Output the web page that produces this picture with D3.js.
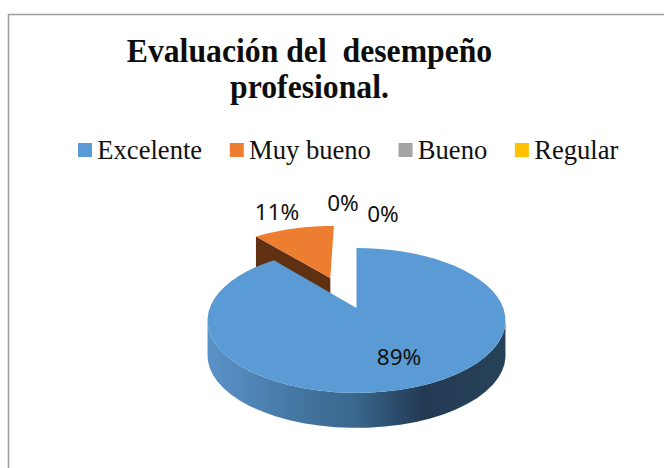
<!DOCTYPE html>
<html>
<head>
<meta charset="utf-8">
<script src="https://cdn.jsdelivr.net/npm/d3@7"></script>
<style>
  html, body { margin: 0; padding: 0; background: #fff; }
  svg { display: block; }
</style>
</head>
<body>
<div id="chart"></div>
<script>
let categories = ['Excelente', 'Muy bueno', 'Bueno', 'Regular']
let values = [89, 11, 0, 0]
let explode = [0, 0.5, 0, 0]
let colors = ['#5B9BD5', '#ED7D31', '#A5A5A5', '#FFC000']
let titleLines = ['Evaluación del  desempeño', 'profesional.']

let width = 664, height = 468

// pie centre and tilt, fitted to the picture
let cx = 356.5, cy = 308, depth = 35
let X = 146.8, Y = 70.3, k = 0.172

let svg = d3.select('#chart').append('svg')
  .attr('width', width)
  .attr('height', height)

svg.append('path')
  .attr('d', 'M8.5,468V14.5H664')
  .attr('fill', 'none')
  .attr('stroke', '#a0a0a0')
  .attr('stroke-width', 1.6)

// title, a bit taller than the font is wide in the picture
svg.selectAll('.title')
  .data(titleLines)
  .enter()
  .append('text')
  .attr('class', 'title')
  .attr('transform', function(d, i) { return 'translate(309.5,' + (62 + i * 36) + ') scale(1,1.05)' })
  .attr('text-anchor', 'middle')
  .style('white-space', 'pre')
  .attr('font-family', '"Liberation Serif"')
  .attr('font-weight', 'bold')
  .attr('font-size', 31.7)
  .attr('fill', '#0d0d0d')
  .text(function(d) { return d })

// legend, laid out left to right from the measured text
let legendX = 78
categories.forEach(function(c, i) {
  svg.append('rect')
    .attr('x', legendX)
    .attr('y', 143)
    .attr('width', 14)
    .attr('height', 14)
    .attr('fill', colors[i])
  let t = svg.append('text')
    .attr('x', legendX + 19.3)
    .attr('y', 159)
    .attr('font-family', '"Liberation Serif"')
    .attr('font-size', 26.6)
    .attr('fill', '#111')
    .text(c)
  legendX += 19.3 + t.node().getComputedTextLength() + 27.6
})

// disc coordinates to screen, with a little perspective
function project(u, v) {
  let w = 1 - k * v
  return [cx + X * u / w, cy + Y * v / w]
}

let pie = d3.pie().sort(null).value(function(d) { return d })
let slices = pie(values)

function rimPoints(s, i) {
  // pull-out direction sits a touch left of the slice middle in the picture
  let mid = (s.startAngle + s.endAngle) / 2 - 0.05
  let ox = explode[i] * Math.sin(mid), oy = -explode[i] * Math.cos(mid)
  let angles = d3.range(0, 61).map(function(n) {
    return s.startAngle + (s.endAngle - s.startAngle) * n / 60
  })
  return {
    apex: project(ox, oy),
    rim: angles.map(function(a) { return project(ox + Math.sin(a), oy - Math.cos(a)) })
  }
}

let line = d3.line()

let defs = svg.append('defs')
let grad = defs.append('linearGradient')
  .attr('id', 'blueSide')
  .attr('gradientUnits', 'userSpaceOnUse')
  .attr('x1', cx - 149).attr('x2', cx + 149)
  .attr('y1', 0).attr('y2', 0)
grad.append('stop').attr('offset', '0').attr('stop-color', '#5b93c9')
grad.append('stop').attr('offset', '0.25').attr('stop-color', '#477ba8')
grad.append('stop').attr('offset', '0.5').attr('stop-color', '#39668c')
grad.append('stop').attr('offset', '0.72').attr('stop-color', '#233a55')
grad.append('stop').attr('offset', '1').attr('stop-color', '#264257')

// orange slice first, the big one covers its wall
let small = rimPoints(slices[1], 1)
let wallEnd = small.rim[0]
svg.append('path')
  .attr('d', line([small.apex, wallEnd, [wallEnd[0], wallEnd[1] + depth], [small.apex[0], small.apex[1] + depth]]) + 'Z')
  .attr('fill', '#5f3112')
svg.append('path')
  .attr('d', line([small.apex].concat(small.rim)) + 'Z')
  .attr('fill', colors[1])

// big slice: side band, then top face
let big = rimPoints(slices[0], 0)
let front = big.rim.filter(function(p) { return p[1] >= cy + 8 })
let side = front.concat(front.slice().reverse().map(function(p) { return [p[0], p[1] + depth] }))
svg.append('path')
  .attr('d', line(side) + 'Z')
  .attr('fill', 'url(#blueSide)')
svg.append('path')
  .attr('d', line([big.apex].concat(big.rim)) + 'Z')
  .attr('fill', colors[0])

// data labels
let labelPos = [[399, 357], [277, 212], [343, 203], [383, 214]]
values.forEach(function(v, i) {
  svg.append('text')
    .attr('x', labelPos[i][0])
    .attr('y', labelPos[i][1])
    .attr('dy', '0.36em')
    .attr('text-anchor', 'middle')
    .attr('font-family', '"Noto Sans"')
    .attr('font-size', 22.5)
    .attr('fill', '#111')
    .text(d3.format('.0f')(v) + '%')
})
</script>
</body>
</html>
